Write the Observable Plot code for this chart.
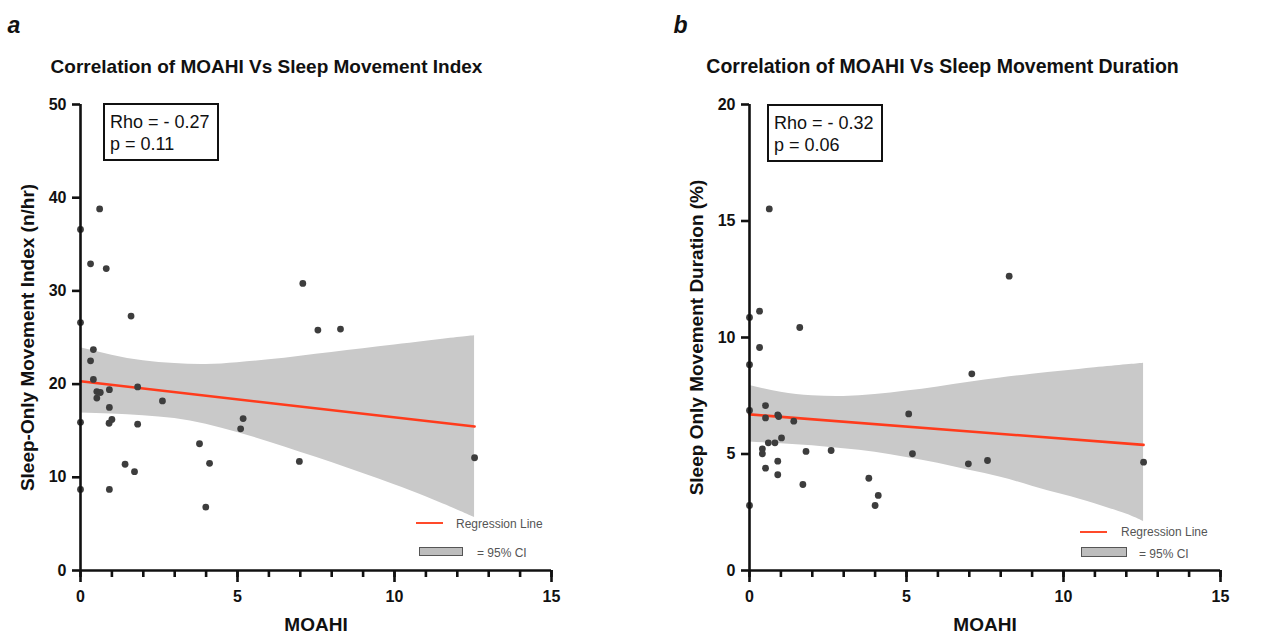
<!DOCTYPE html>
<html>
<head>
<meta charset="utf-8">
<script src="https://cdn.jsdelivr.net/npm/d3@7"></script>
<script src="https://cdn.jsdelivr.net/npm/@observablehq/plot@0.6"></script>
<style>
  body { margin: 0; background: #fff; }
  #fig { position: relative; width: 1261px; height: 633px; overflow: hidden;
         font-family: 'Liberation Sans', Arial, sans-serif; }
  .panel { position: absolute; top: 0; height: 633px; }
  .panel svg { position: absolute; left: 0; top: 0; }
  .stats { position: absolute; border: 2px solid #111; box-sizing: border-box;
           font-size: 18px; line-height: 22px; padding: 6px 0 0 5px; color: #111; background: #fff; }
  .leg-text { position: absolute; font-size: 12px; line-height: 12px; color: #555; white-space: nowrap; }
  .leg-line { position: absolute; height: 0; border-top: 2px solid #ff4a2a; }
  .leg-box { position: absolute; box-sizing: border-box; background: #bdbdbd; border: 1.5px solid #555; }
</style>
</head>
<body>
<div id="fig">
  <div class="panel" id="panelA" style="left:0;width:640px"></div>
  <div class="panel" id="panelB" style="left:640px;width:621px"></div>
</div>
<script>
// ---- Panel a: MOAHI vs sleep-only movement index (n/hr)
const moahiA = [0, 0, 0, 0, 0.32, 0.32, 0.41, 0.41, 0.52, 0.52, 0.61, 0.63, 0.82, 0.92, 0.92, 0.91, 0.92,
                1.0, 1.42, 1.61, 1.72, 1.82, 1.82, 2.61, 3.79, 3.99, 4.11, 5.1, 5.18, 6.97, 7.08, 7.56, 8.28, 12.55];
const indexA = [36.6, 26.6, 15.9, 8.7, 32.9, 22.5, 23.7, 20.5, 19.2, 18.5, 38.8, 19.1, 32.4, 19.4, 17.5, 15.8, 8.7,
                16.2, 11.4, 27.3, 10.6, 19.7, 15.7, 18.2, 13.6, 6.8, 11.5, 15.2, 16.3, 11.7, 30.8, 25.8, 25.9, 12.1];

// ---- Panel b: MOAHI vs sleep-only movement duration (%)
const moahiB = [0, 0, 0, 0, 0.32, 0.32, 0.41, 0.41, 0.51, 0.51, 0.51, 0.63, 0.6, 0.81, 0.9, 0.93, 0.9, 0.9,
                1.02, 1.41, 1.6, 1.7, 1.8, 2.6, 3.8, 4.0, 4.1, 5.07, 5.19, 6.97, 7.08, 7.58, 8.27, 12.55];
const durationB = [10.86, 8.83, 6.87, 2.79, 11.13, 9.57, 5.22, 5.01, 7.08, 6.55, 4.39, 15.52, 5.48, 5.48, 6.68, 6.61, 4.69, 4.11,
                   5.69, 6.41, 10.43, 3.69, 5.11, 5.15, 3.96, 2.79, 3.22, 6.72, 5.01, 4.58, 8.44, 4.72, 12.63, 4.65];

// Fitted regression lines (ends of the fitted range)
const fitX = [0, 12.55];
const fitA = [20.3, 15.45];
const fitB = [6.70, 5.39];

// 95% confidence bands around each fit
const bandX  = [0, 1, 2, 3, 4, 5, 6, 7, 8, 9, 10, 11, 12, 12.55];
const bandHiA = [23.9, 23.1, 22.5, 22.2, 22.1, 22.3, 22.6, 23.0, 23.4, 23.8, 24.2, 24.6, 25.0, 25.2];
const bandLoA = [16.9, 16.8, 16.6, 16.3, 15.7, 14.8, 13.8, 12.7, 11.6, 10.4, 9.2, 7.9, 6.5, 5.7];
const bandHiB = [7.94, 7.65, 7.50, 7.47, 7.55, 7.70, 7.88, 8.08, 8.26, 8.42, 8.56, 8.70, 8.83, 8.90];
const bandLoB = [5.51, 5.44, 5.35, 5.22, 5.07, 4.85, 4.60, 4.30, 4.00, 3.62, 3.25, 2.87, 2.42, 2.10];

// Axis ticks
const xMajor = [0, 5, 10, 15];
const xMinor = [0, 1, 2, 3, 4, 5, 6, 7, 8, 9, 10, 11, 12, 13, 14, 15];
const yTicksA = [0, 10, 20, 30, 40, 50];
const yTicksB = [0, 5, 10, 15, 20];

const FONT = "'Liberation Sans', Arial, sans-serif";
const INK = "#111";

function scatterPanel(cfg) {
  const pts = cfg.xs.map((x, i) => ({x, y: cfg.ys[i]}));
  const fit = fitX.map((x, i) => ({x, y: cfg.fit[i]}));
  const band = bandX.map((x, i) => ({x, lo: cfg.lo[i], hi: cfg.hi[i]}));
  const bold = {fontWeight: "bold", fill: INK, fontFamily: FONT};
  return Plot.plot({
    width: cfg.width,
    height: 633,
    marginLeft: cfg.marginLeft,
    marginRight: cfg.marginRight,
    marginTop: 104,
    marginBottom: 63,
    style: {fontFamily: FONT, fontSize: "16px", color: INK, background: "transparent", overflow: "visible"},
    x: {domain: [0, 15], nice: false},
    y: {domain: [0, cfg.yMax], nice: false},
    marks: [
      Plot.areaY(band, {x: "x", y1: "lo", y2: "hi", fill: "#c9c9c9", curve: "natural"}),
      Plot.line(fit, {x: "x", y: "y", stroke: "#ff3b1c", strokeWidth: 2.6}),
      Plot.dot(pts, {x: "x", y: "y", r: 3.4, fill: "#3d3d3d", stroke: "none"}),
      Plot.ruleX([0], {stroke: INK, strokeWidth: 2.6}),
      Plot.ruleY([0], {stroke: INK, strokeWidth: 2.6}),
      Plot.axisX({ticks: xMinor, tickSize: 7, strokeWidth: 2.6, tickFormat: () => "", label: null}),
      Plot.axisX({ticks: xMajor, tickSize: 12, tickPadding: 8, strokeWidth: 2.6, fontSize: 16, fontWeight: "bold", label: null}),
      Plot.axisY({ticks: cfg.yTicks, tickSize: 8, tickPadding: 6, strokeWidth: 2.6, fontSize: 16, fontWeight: "bold", label: null}),
      Plot.text([cfg.letter], {text: d => d, frameAnchor: "top-left", dx: cfg.letterDx, dy: -72,
        textAnchor: "start", lineAnchor: "bottom", fontSize: 23, fontStyle: "italic", ...bold}),
      Plot.text([cfg.title], {text: d => d, frameAnchor: "top-left", dx: cfg.titleDx, dy: -31.5,
        textAnchor: "middle", lineAnchor: "bottom", fontSize: cfg.titleSize, ...bold}),
      Plot.text([cfg.yLabel], {text: d => d, frameAnchor: "left", dx: -53, rotate: -90,
        textAnchor: "middle", lineAnchor: "middle", fontSize: 19, ...bold}),
      Plot.text(["MOAHI"], {text: d => d, frameAnchor: "bottom", dy: 60,
        textAnchor: "middle", lineAnchor: "bottom", fontSize: 19, ...bold})
    ]
  });
}

function addOverlay(host, o) {
  const stats = document.createElement("div");
  stats.className = "stats";
  Object.assign(stats.style, {left: o.box[0] + "px", top: o.box[1] + "px", width: o.box[2] + "px", height: o.box[3] + "px"});
  stats.innerHTML = o.stats.join("<br>");
  host.appendChild(stats);

  const line = document.createElement("div");
  line.className = "leg-line";
  Object.assign(line.style, {left: o.line[0] + "px", top: o.line[1] + "px", width: o.line[2] + "px"});
  host.appendChild(line);

  const t1 = document.createElement("div");
  t1.className = "leg-text";
  t1.textContent = "Regression Line";
  Object.assign(t1.style, {left: o.lineText[0] + "px", top: o.lineText[1] + "px"});
  host.appendChild(t1);

  const sw = document.createElement("div");
  sw.className = "leg-box";
  Object.assign(sw.style, {left: o.swatch[0] + "px", top: o.swatch[1] + "px", width: o.swatch[2] + "px", height: o.swatch[3] + "px"});
  host.appendChild(sw);

  const t2 = document.createElement("div");
  t2.className = "leg-text";
  t2.textContent = "= 95% CI";
  Object.assign(t2.style, {left: o.ciText[0] + "px", top: o.ciText[1] + "px"});
  host.appendChild(t2);
}

const hostA = document.getElementById("panelA");
hostA.appendChild(scatterPanel({
  xs: moahiA, ys: indexA, fit: fitA, lo: bandLoA, hi: bandHiA,
  yMax: 50, yTicks: yTicksA, width: 640, marginLeft: 80, marginRight: 89,
  letter: "a", letterDx: -73,
  title: "Correlation of MOAHI Vs Sleep Movement Index", titleDx: 186, titleSize: 19,
  yLabel: "Sleep-Only Movement Index (n/hr)"
}));
addOverlay(hostA, {
  box: [103, 103, 116, 58], stats: ["Rho = - 0.27", "p = 0.11"],
  line: [416, 522, 27], lineText: [456, 518],
  swatch: [419, 547, 44, 9], ciText: [477, 547]
});

const hostB = document.getElementById("panelB");
hostB.appendChild(scatterPanel({
  xs: moahiB, ys: durationB, fit: fitB, lo: bandLoB, hi: bandHiB,
  yMax: 20, yTicks: yTicksB, width: 621, marginLeft: 109, marginRight: 41,
  letter: "b", letterDx: -76,
  title: "Correlation of MOAHI Vs Sleep Movement Duration", titleDx: 193, titleSize: 19.5,
  yLabel: "Sleep Only Movement Duration (%)"
}));
addOverlay(hostB, {
  box: [127, 104, 116, 58], stats: ["Rho = - 0.32", "p = 0.06"],
  line: [440, 531, 27], lineText: [481, 526],
  swatch: [441, 547, 46, 10], ciText: [499, 548]
});
</script>
</body>
</html>
